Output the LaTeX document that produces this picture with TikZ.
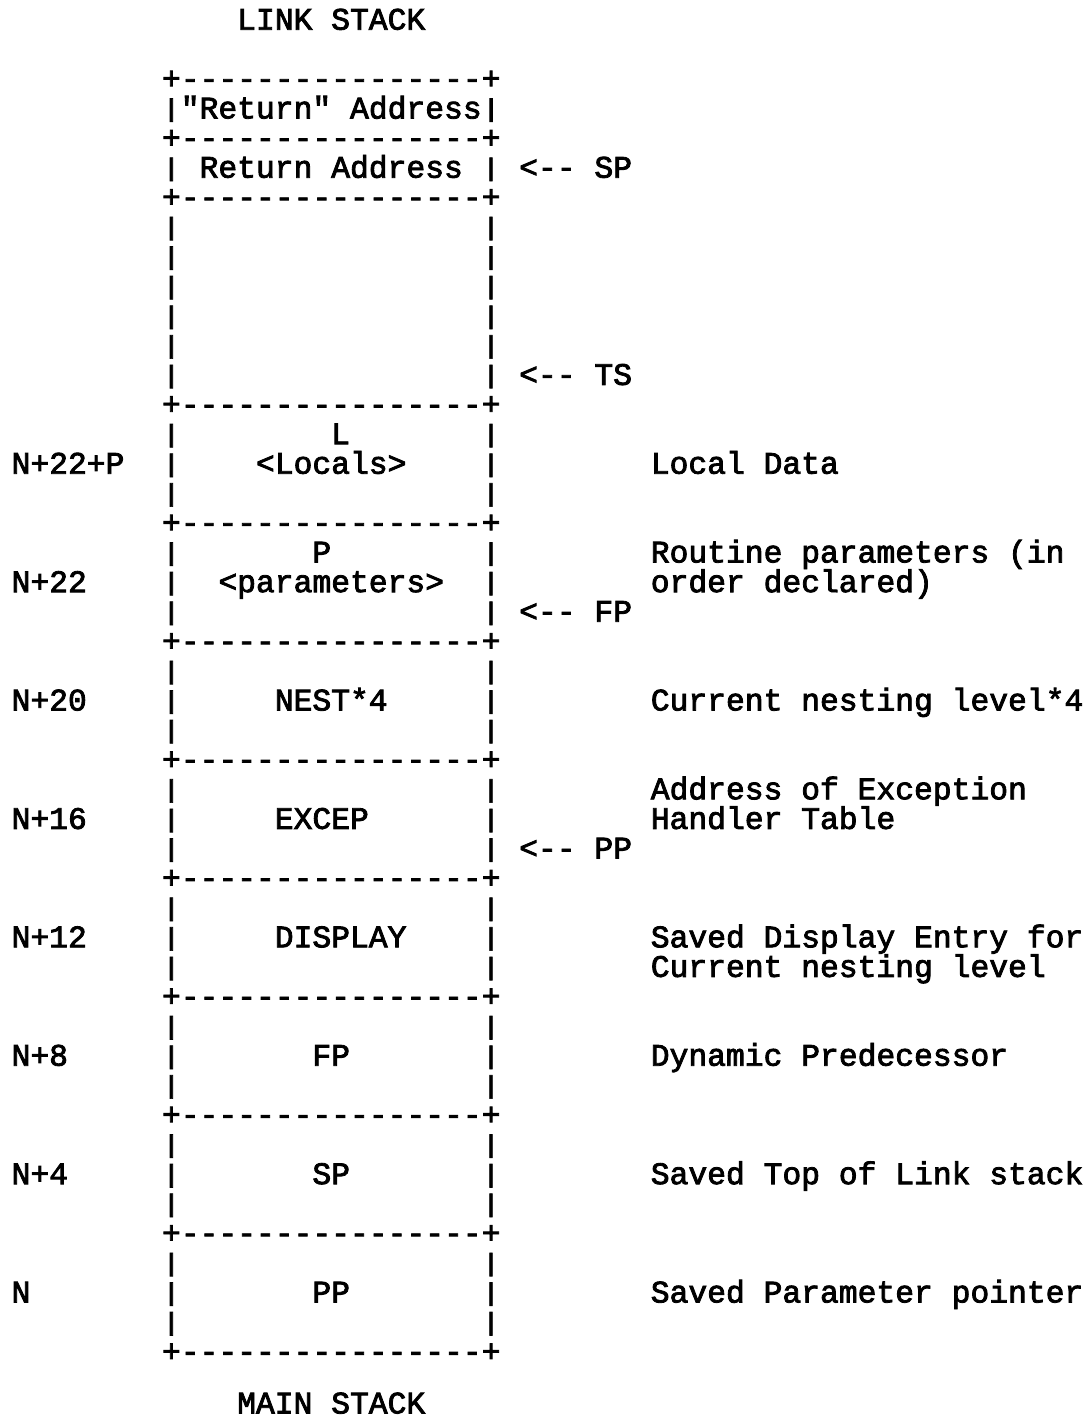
\documentclass[tikz,border=0pt]{standalone}
\usepackage{fontspec}
\usepackage{graphicx}
\newfontfamily\mono[FakeBold=2.6]{Liberation Mono}
\newcommand\Tx[3]{\node[tx] (t#2c#1) at (#1,#2+0.3) {#3};}
\newcommand\Bar{\raisebox{0.06em}{\scalebox{1}[0.8]{|}}}
\newcommand\HRow[1]{\Tx{8}{#1}{+----------------+}}
\newcommand\VRow[1]{\Tx{8}{#1}{\Bar}\Tx{25}{#1}{\Bar}}
\begin{document}
\begin{tikzpicture}[x=9.4pt,y=-14.8pt,
  tx/.style={anchor=base west,inner sep=0pt,outer sep=0pt,text=black,
    font=\mono\fontsize{15.67pt}{18pt}\selectfont}]
\useasboundingbox[fill=white] (-0.617,-2.703) rectangle (57.1,45.27);
\Tx{12}{-2}{LINK STACK}
\HRow{0}
\Tx{8}{1}{\Bar"Return" Address\Bar}
\HRow{2}
\VRow{3}\Tx{10}{3}{Return Address}\Tx{27}{3}{<-- SP}
\HRow{4}
\VRow{5}\VRow{6}\VRow{7}\VRow{8}\VRow{9}
\VRow{10}\Tx{27}{10}{<-- TS}
\HRow{11}
\VRow{12}\Tx{17}{12}{L}
\Tx{0}{13}{N+22+P}\VRow{13}\Tx{13}{13}{<Locals>}\Tx{34}{13}{Local Data}
\VRow{14}
\HRow{15}
\VRow{16}\Tx{16}{16}{P}\Tx{34}{16}{Routine parameters (in}
\Tx{0}{17}{N+22}\VRow{17}\Tx{11}{17}{<parameters>}\Tx{34}{17}{order declared)}
\VRow{18}\Tx{27}{18}{<-- FP}
\HRow{19}
\VRow{20}
\Tx{0}{21}{N+20}\VRow{21}\Tx{14}{21}{NEST*4}\Tx{34}{21}{Current nesting level*4}
\VRow{22}
\HRow{23}
\VRow{24}\Tx{34}{24}{Address of Exception}
\Tx{0}{25}{N+16}\VRow{25}\Tx{14}{25}{EXCEP}\Tx{34}{25}{Handler Table}
\VRow{26}\Tx{27}{26}{<-- PP}
\HRow{27}
\VRow{28}
\Tx{0}{29}{N+12}\VRow{29}\Tx{14}{29}{DISPLAY}\Tx{34}{29}{Saved Display Entry for}
\VRow{30}\Tx{34}{30}{Current nesting level}
\HRow{31}
\VRow{32}
\Tx{0}{33}{N+8}\VRow{33}\Tx{16}{33}{FP}\Tx{34}{33}{Dynamic Predecessor}
\VRow{34}
\HRow{35}
\VRow{36}
\Tx{0}{37}{N+4}\VRow{37}\Tx{16}{37}{SP}\Tx{34}{37}{Saved Top of Link stack}
\VRow{38}
\HRow{39}
\VRow{40}
\Tx{0}{41}{N}\VRow{41}\Tx{16}{41}{PP}\Tx{34}{41}{Saved Parameter pointer}
\VRow{42}
\HRow{43}
\Tx{12}{44.75}{MAIN STACK}
\end{tikzpicture}
\end{document}
